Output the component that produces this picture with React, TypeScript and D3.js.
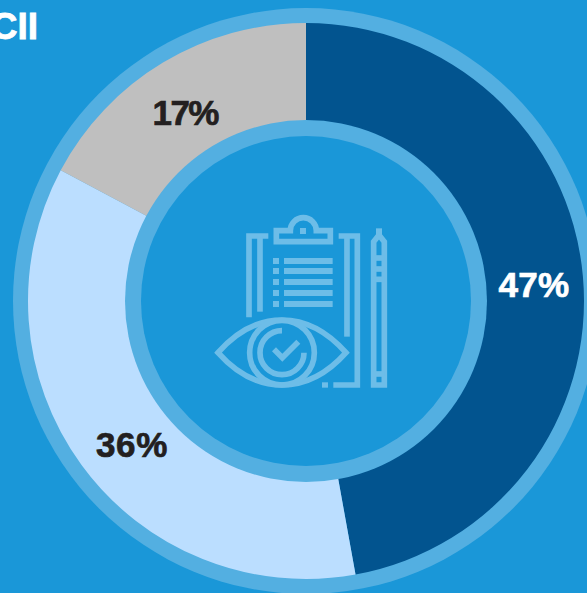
import * as d3 from 'd3';

const categories = ['A', 'B', 'C'];
const shares = [47.15, 35.65, 17.2];
const shareLabels = ['47%', '36%', '17%'];
const titleText = 'CII';

const WIDTH = 587;
const HEIGHT = 593;
const CX = 306;
const CY = 301;

const BG = '#1a97d8';
const RING = '#53afe1';
const ICON = '#6dbde8';
const sliceColors = ['#02548f', '#bbdeff', '#bfbfbf'];
const labelColors = ['#ffffff', '#231f20', '#231f20'];
// nudges from the arc centroid, the source labels are hand placed
const labelNudge = [[0, 4], [11, 9], [-3, 8]];
const labelSpacing = [0.3, 0.6, -1.5];

// icon is drawn at 3x and scaled down
function Icon() {
  const listRows = [183, 213, 246, 279, 312];
  const penBands = [174, 207, 238, 522];
  return (
    <g transform="translate(200,200) scale(0.3333)" fill="none" stroke={ICON} strokeWidth={17}>
      {/* clipboard sides */}
      <path d="M205,108 H147 V352" />
      <path d="M180,108 V335" />
      <path d="M416,108 H472 V555 H400" />
      <path d="M441,108 V410" />
      <rect x={366} y={547} width={18} height={16} fill={ICON} stroke="none" />
      {/* clip */}
      <path d="M271,92 H229 V125 H391 V92 H349 A39,39 0 0 0 271,92 Z" />
      <rect x={300} y={84} width={18} height={18} fill={ICON} stroke="none" />
      {/* list */}
      {listRows.map(y => (
        <g key={y}>
          <path d={`M219,${y} H237`} strokeWidth={18} />
          <path d={`M252,${y} H398`} strokeWidth={18} />
        </g>
      ))}
      {/* pen */}
      <path d="M521,555 V125 L537,105 L553,125 V555 Z" />
      <path d="M537,85 V105" strokeWidth={18} />
      {penBands.map(y => (
        <path key={y} d={`M521,${y} H553`} />
      ))}
      {/* eye */}
      <path d="M54,458 C110,395 175,360 246,360 C317,360 382,395 438,458 C382,521 317,555 246,555 C175,555 110,521 54,458 Z" fill={BG} />
      <circle cx={246} cy={458} r={97} />
      <path d="M246,392 A66,66 0 1 0 312,458" />
      <path d="M222,448 L247,473 L295,425" />
    </g>
  );
}

export default function App() {
  const pie = d3.pie<number>().sort(null).startAngle(0).endAngle(2 * Math.PI);
  const arc = d3.arc<d3.PieArcDatum<number>>().innerRadius(180).outerRadius(278);
  const slices = pie(shares);

  return (
    <svg
      width={WIDTH}
      height={HEIGHT}
      viewBox={`0 0 ${WIDTH} ${HEIGHT}`}
      style={{ position: 'fixed', left: 0, top: 0 }}
    >
      <rect width={WIDTH} height={HEIGHT} fill={BG} />
      <text
        x={38}
        y={39}
        textAnchor="end"
        fontFamily="Liberation Sans"
        fontWeight={700}
        fontSize={37}
        fill="#ffffff"
        stroke="#ffffff"
        strokeWidth={0.8}
      >
        {titleText}
      </text>
      <g transform={`translate(${CX},${CY})`}>
        <circle r={293} fill={RING} />
        {slices.map((s, i) => (
          <path key={categories[i]} d={arc(s) ?? ''} fill={sliceColors[i]} />
        ))}
        <circle r={181} fill={RING} />
        <circle r={165} fill={BG} />
        {slices.map((s, i) => {
          const [x, y] = arc.centroid(s);
          return (
            <text
              key={categories[i]}
              x={x + labelNudge[i][0]}
              y={y + labelNudge[i][1]}
              textAnchor="middle"
              dominantBaseline="central"
              fontFamily="Liberation Sans"
              fontWeight={700}
              fontSize={35}
              letterSpacing={labelSpacing[i]}
              fill={labelColors[i]}
              stroke={labelColors[i]}
              strokeWidth={0.7}
            >
              {shareLabels[i]}
            </text>
          );
        })}
      </g>
      <Icon />
    </svg>
  );
}
